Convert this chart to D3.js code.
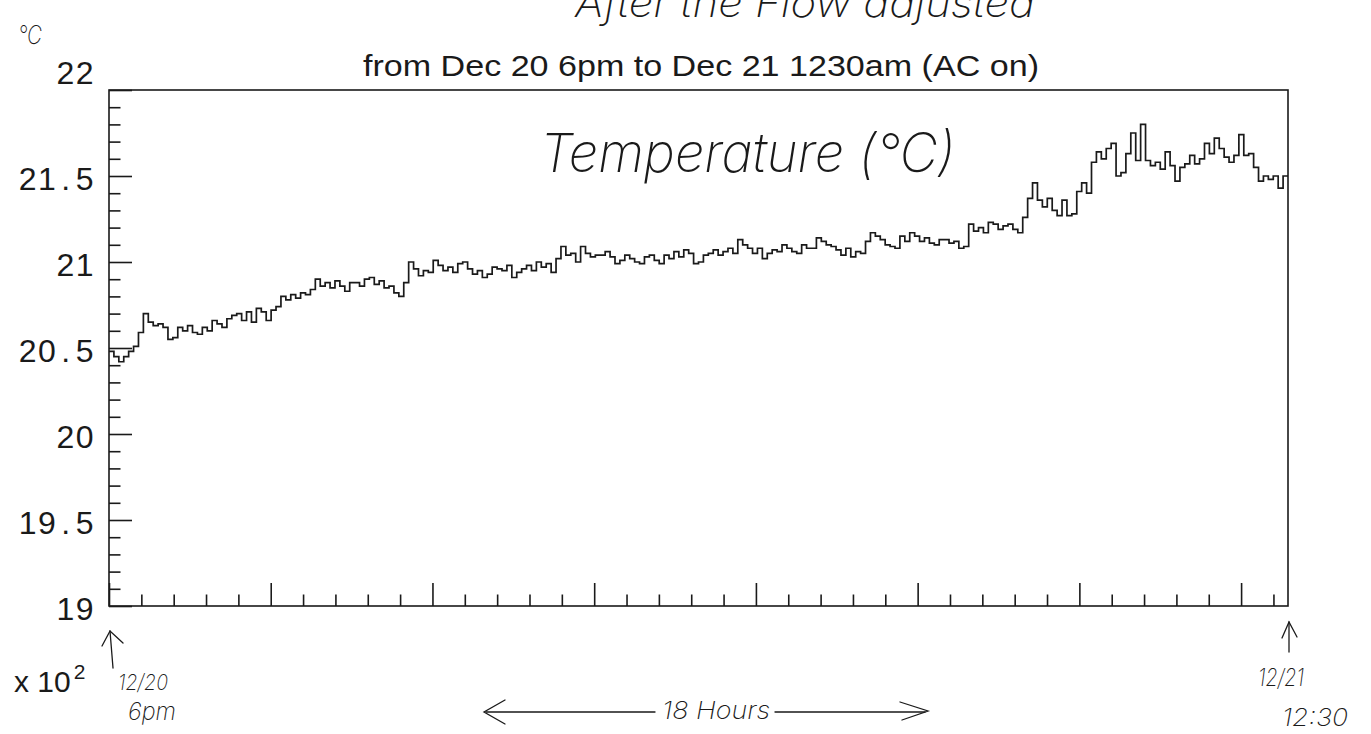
<!DOCTYPE html>
<html><head><meta charset="utf-8">
<script src="https://cdn.jsdelivr.net/npm/d3@7"></script>
<style>body{margin:0;background:#fff} svg{display:block}</style>
</head><body><svg id="c" width="1371" height="734"></svg>
<script>
// ---- data ----
const temperature = [
  20.48,20.45,20.42,20.45,20.48,20.51,20.59,20.70,20.65,20.63,
  20.64,20.62,20.55,20.56,20.62,20.60,20.63,20.59,20.58,20.62,
  20.60,20.66,20.64,20.62,20.67,20.69,20.70,20.66,20.71,20.65,
  20.73,20.71,20.66,20.72,20.74,20.80,20.78,20.81,20.79,20.82,
  20.81,20.84,20.90,20.86,20.88,20.85,20.89,20.86,20.83,20.88,
  20.88,20.86,20.90,20.91,20.87,20.89,20.85,20.86,20.82,20.80,
  20.88,21.00,20.96,20.92,20.95,20.94,21.01,20.98,20.95,20.97,
  20.94,20.99,21.00,20.96,20.93,20.95,20.91,20.93,20.97,20.96,
  20.95,20.98,20.91,20.94,20.96,20.98,20.95,21.00,20.97,20.99,
  20.94,21.02,21.09,21.04,21.05,21.00,21.09,21.05,21.03,21.04,
  21.04,21.06,21.03,20.99,21.01,21.04,21.02,21.00,20.99,21.03,
  21.04,21.01,20.99,21.04,21.02,21.06,21.03,21.07,21.05,20.99,
  21.00,21.04,21.05,21.07,21.04,21.06,21.08,21.05,21.13,21.10,
  21.08,21.05,21.08,21.02,21.05,21.07,21.06,21.10,21.08,21.06,
  21.05,21.10,21.08,21.08,21.14,21.12,21.10,21.09,21.07,21.04,
  21.08,21.03,21.06,21.05,21.12,21.17,21.15,21.13,21.10,21.09,
  21.08,21.15,21.12,21.17,21.15,21.12,21.14,21.11,21.10,21.13,
  21.13,21.11,21.12,21.08,21.09,21.22,21.18,21.20,21.17,21.23,
  21.22,21.19,21.21,21.22,21.19,21.17,21.26,21.37,21.46,21.36,
  21.32,21.37,21.30,21.27,21.36,21.27,21.28,21.41,21.46,21.40,
  21.58,21.64,21.60,21.66,21.69,21.50,21.52,21.63,21.75,21.59,
  21.80,21.59,21.56,21.58,21.54,21.64,21.56,21.47,21.55,21.57,
  21.62,21.57,21.60,21.69,21.63,21.72,21.66,21.61,21.58,21.62,
  21.74,21.62,21.63,21.55,21.47,21.50,21.48,21.50,21.43,21.50
];
const xDomain = [0, 7.29];
const yDomain = [19, 22];
const yMajorTicks = [19, 19.5, 20, 20.5, 21, 21.5, 22];
const yTickLabels = ["19", "19.5", "20", "20.5", "21", "21.5", "22"];
const xMajorTicks = [0, 1, 2, 3, 4, 5, 6, 7];
const titleText = "from Dec 20 6pm to Dec 21 1230am (AC on)";
const noteTop = "After the Flow adjusted";
const noteInside = "Temperature (°C)";
const noteUnit = "°C";
const noteStart = ["12/20", "6pm"];
const noteEnd = ["12/21", "12:30"];
const noteSpan = "18 Hours";

// ---- drawing ----
const svg = d3.select("#c");
const ink = "#1a1a1a";
const hand = "Inter, Lato, 'DejaVu Sans', sans-serif";
const x = d3.scaleLinear().domain(xDomain).range([109, 1288]);
const y = d3.scaleLinear().domain(yDomain).range([606, 90]);

const yMinor = d3.range(190, 221, 1).map(d => d / 10).filter(v => !yMajorTicks.includes(v));
const xMinor = d3.range(0, 37, 1).map(d => d / 5).filter(v => v <= xDomain[1] && !xMajorTicks.includes(v));

// frame
svg.append("rect").attr("x", x(xDomain[0])).attr("y", y(yDomain[1]))
  .attr("width", x(xDomain[1]) - x(xDomain[0])).attr("height", y(yDomain[0]) - y(yDomain[1]))
  .attr("fill", "none").attr("stroke", ink).attr("stroke-width", 1.6);

// y axis major with labels
const yAxis = svg.append("g").attr("transform", `translate(${x(xDomain[0])},0)`)
  .call(d3.axisLeft(y).tickValues(yMajorTicks).tickSizeInner(-23).tickSizeOuter(0).tickPadding(14)
    .tickFormat((d, i) => yTickLabels[i]));
yAxis.select(".domain").remove();
yAxis.selectAll("line").attr("stroke", ink).attr("stroke-width", 1.6);
yAxis.selectAll("text").attr("font-family", "'Liberation Sans', Arial, sans-serif")
  .attr("font-size", 32).attr("fill", ink).attr("letter-spacing", 1.5)
  .attr("dy", (d) => d === 22 ? "-0.2em" : "0.42em")
  .each(function () {
    const t = d3.select(this), s = t.text(), parts = s.split(".");
    t.text(null);
    t.append("tspan").text(parts[0]);
    if (parts.length > 1) {
      t.append("tspan").attr("dx", 4).text(".");
      t.append("tspan").attr("dx", 4).text(parts[1]);
    }
  });
// y minor
const yAxisMinor = svg.append("g").attr("transform", `translate(${x(xDomain[0])},0)`)
  .call(d3.axisLeft(y).tickValues(yMinor).tickSizeInner(-11.5).tickSizeOuter(0).tickFormat(""));
yAxisMinor.select(".domain").remove();
yAxisMinor.selectAll("line").attr("stroke", ink).attr("stroke-width", 1.6);

// x axis
const xAxis = svg.append("g").attr("transform", `translate(0,${y(yDomain[0])})`)
  .call(d3.axisBottom(x).tickValues(xMajorTicks).tickSizeInner(-23).tickSizeOuter(0).tickFormat(""));
xAxis.select(".domain").remove();
xAxis.selectAll("line").attr("stroke", ink).attr("stroke-width", 1.6);
const xAxisMinor = svg.append("g").attr("transform", `translate(0,${y(yDomain[0])})`)
  .call(d3.axisBottom(x).tickValues(xMinor).tickSizeInner(-11.5).tickSizeOuter(0).tickFormat(""));
xAxisMinor.select(".domain").remove();
xAxisMinor.selectAll("line").attr("stroke", ink).attr("stroke-width", 1.6);

// histogram outline
const bw = (xDomain[1] - xDomain[0]) / temperature.length;
const pts = temperature.map((v, i) => [xDomain[0] + i * bw, v]);
pts.push([xDomain[1], temperature[temperature.length - 1]]);
svg.append("path").datum(pts)
  .attr("d", d3.line().x(d => x(d[0])).y(d => y(d[1])).curve(d3.curveStepAfter))
  .attr("fill", "none").attr("stroke", ink).attr("stroke-width", 1.7);

// title
svg.append("text").attr("x", 363).attr("y", 76).text(titleText)
  .attr("font-family", "'Liberation Sans', Arial, sans-serif").attr("font-size", 29)
  .attr("fill", ink).attr("textLength", 676).attr("lengthAdjust", "spacingAndGlyphs");

// x 10^2
const mult = svg.append("text").attr("x", 14).attr("y", 692)
  .attr("font-family", "'Liberation Sans', Arial, sans-serif").attr("font-size", 30).attr("fill", ink);
mult.append("tspan").text("x 10");
mult.append("tspan").attr("dy", -13).attr("font-size", 21).attr("dx", 3).text("2");

// handwritten notes
function handText(t, xx, yy, size, len) {
  const s = svg.append("text").attr("x", xx).attr("y", yy).text(t)
    .attr("font-family", hand).attr("font-weight", 200).attr("font-style", "italic")
    .attr("font-size", size).attr("fill", ink);
  if (len) s.attr("textLength", len).attr("lengthAdjust", "spacingAndGlyphs");
  return s;
}
handText(noteTop, 575, 17, 40, 460);
handText(noteUnit, 18, 44, 26, 24);
handText(noteInside, 540, 172, 54, 415);
handText(noteStart[0], 118, 690, 22, 50);
handText(noteStart[1], 128, 720, 24, 48);
handText(noteEnd[0], 1258, 686, 24, 46);
handText(noteEnd[1], 1282, 726, 24, 66);
handText(noteSpan, 662, 719, 24, 108);

function stroke(pp) {
  svg.append("path").attr("d", d3.line()(pp)).attr("fill", "none")
    .attr("stroke", ink).attr("stroke-width", 1.3).attr("stroke-linecap", "round");
}
// start arrow
stroke([[113, 668], [110, 631]]);
stroke([[102, 646], [110, 631], [123, 643]]);
// end arrow
stroke([[1289, 652], [1289, 622]]);
stroke([[1282, 638], [1289, 622], [1297, 637]]);
// span arrows
stroke([[486, 712], [655, 712]]);
stroke([[505, 700], [484, 712], [505, 724]]);
stroke([[775, 712], [925, 712]]);
stroke([[900, 702], [928, 711], [902, 720]]);
</script></body></html>
